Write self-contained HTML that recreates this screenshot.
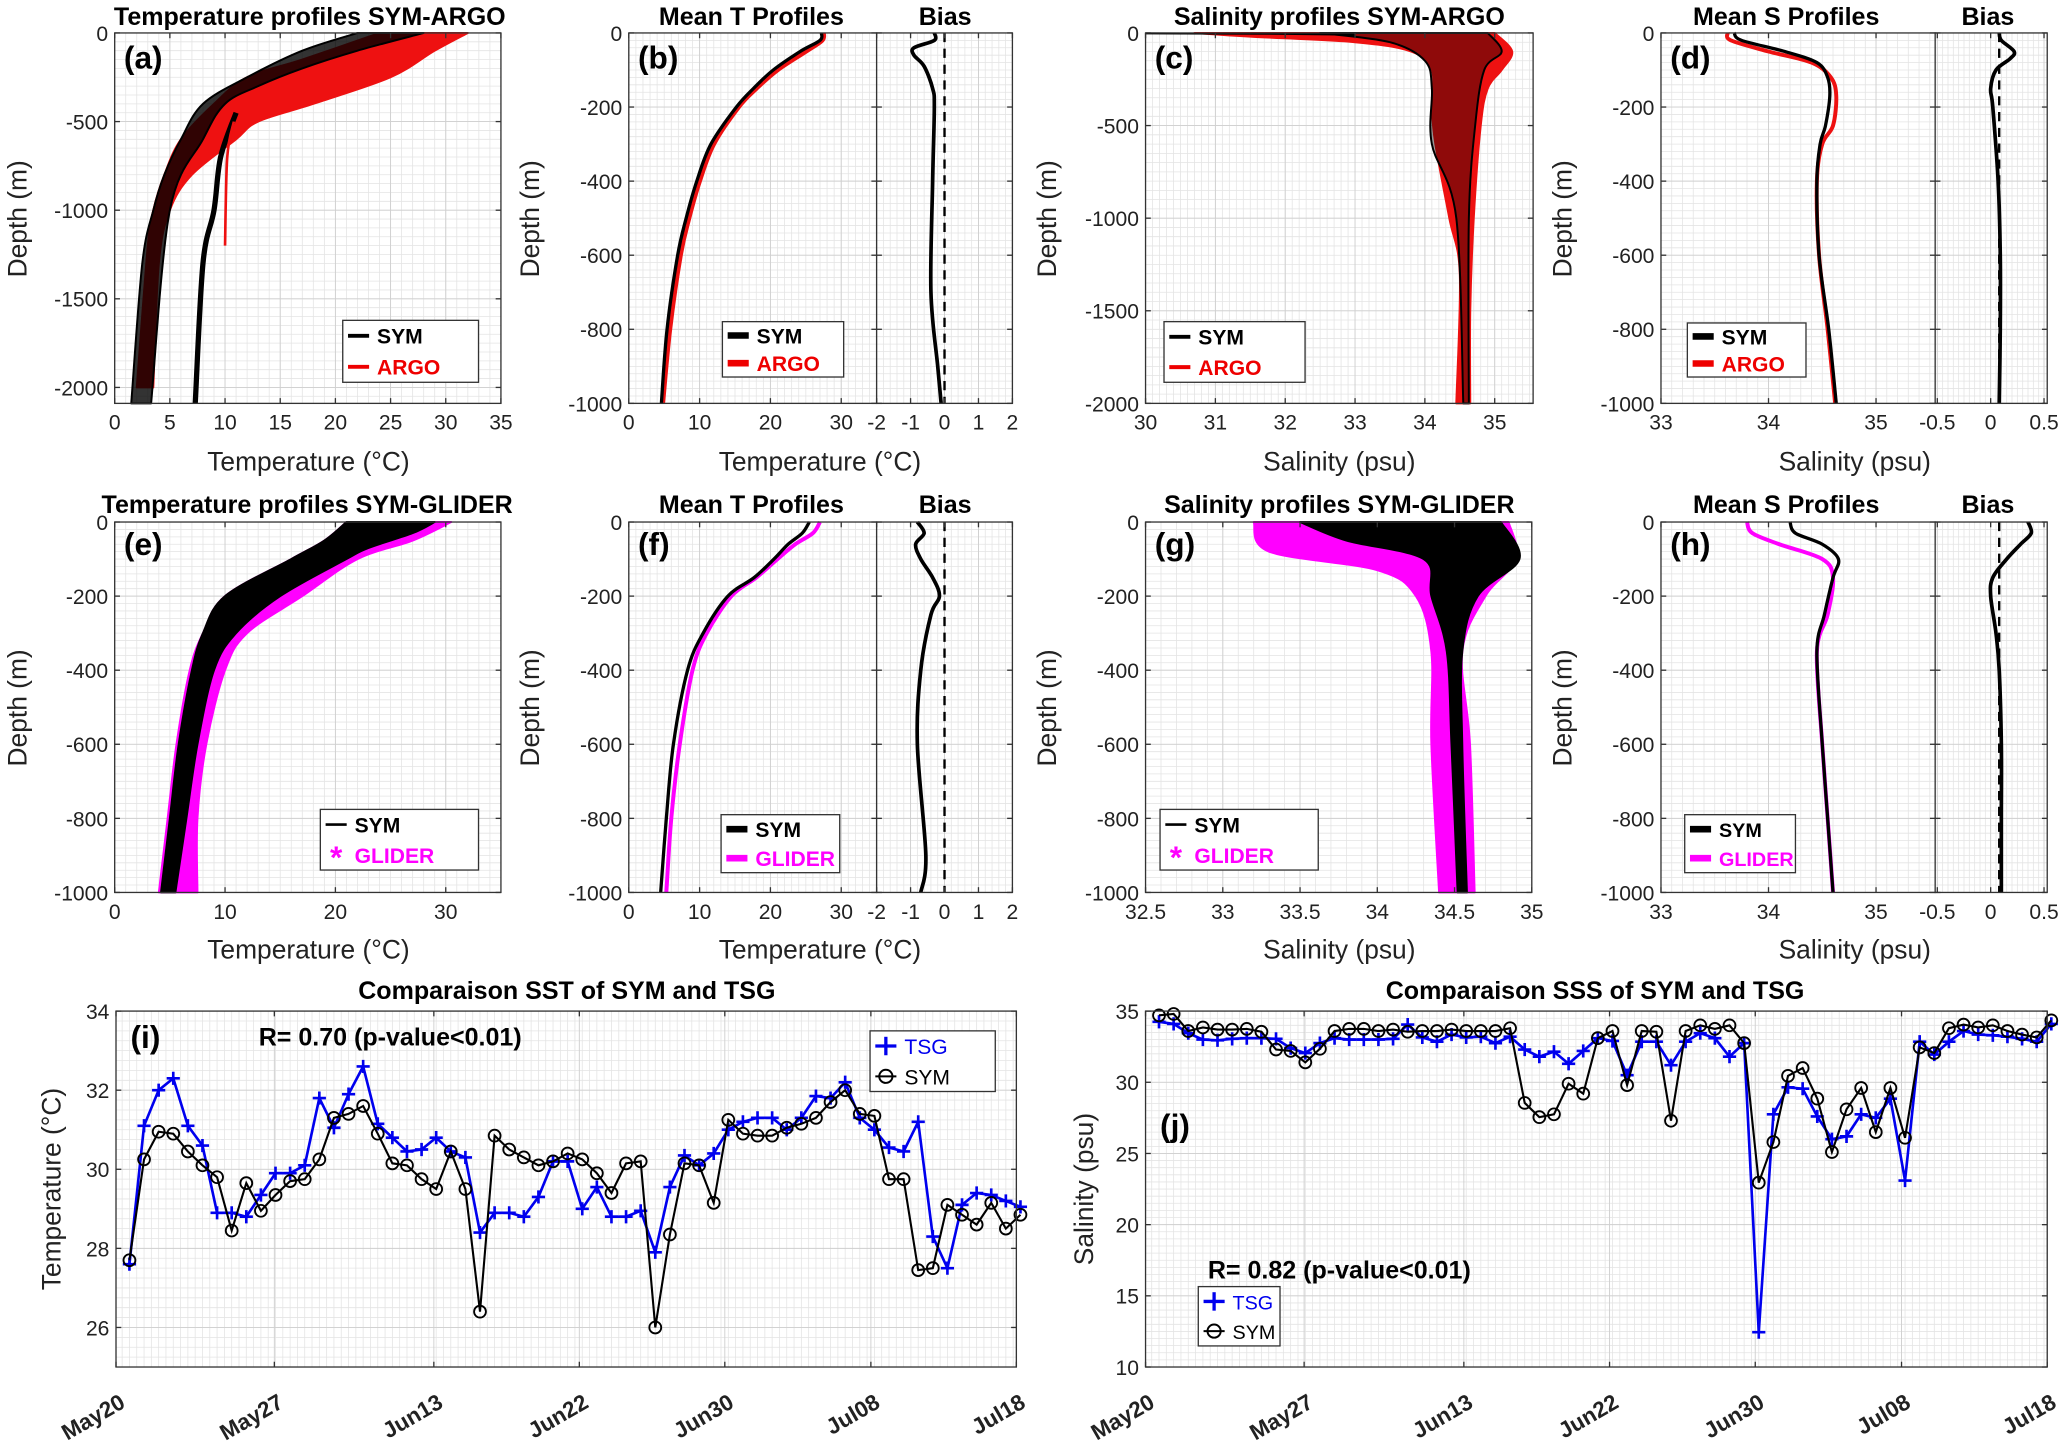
<!DOCTYPE html>
<html><head><meta charset="utf-8"><style>
html,body{margin:0;padding:0;background:#fff}
svg{display:block}
text{font-family:"Liberation Sans",Arial,sans-serif}
</style></head><body>
<svg id="fig" width="2067" height="1444" viewBox="0 0 1568 1095.4" xmlns="http://www.w3.org/2000/svg"></svg>
<script>
// ---------- DATA ----------
const aRedLeft=[[0,24],[-150,17],[-250,12],[-400,9],[-600,6],[-800,4.5],[-1000,3.5],[-1200,3],[-2000,2]];
const aRedRight=[[0,32],[-100,29],[-250,25],[-400,18],[-500,13],[-600,11],[-800,7],[-1000,5],[-1300,4],[-2000,3.5]];
const aBlkLeft=[[0,22],[-100,17],[-250,12],[-400,8],[-600,6],[-800,4.5],[-1000,3.5],[-1300,2.5],[-2090,1.5]];
const aBlkRight=[[0,28],[-100,22],[-200,17],[-300,13],[-400,10],[-600,8],[-1000,5],[-2090,3.3]];
const aBlkDeep=[[-450,11],[-700,9.6],[-1000,9],[-1300,8],[-2090,7.3]];
const aRedDeep=[[-500,10.8],[-700,10.2],[-1200,10]];
const bArgo=[[0,27.5],[-20,27.3],[-50,25],[-100,21],[-150,18],[-200,15.5],[-300,12],[-400,10],[-500,8.5],[-600,7.3],[-800,5.8],[-1000,4.8]];
const bSym=[[0,27.2],[-20,27],[-50,24.2],[-100,20.4],[-150,17.6],[-200,15.2],[-300,11.6],[-400,9.6],[-500,8.1],[-600,6.9],[-800,5.4],[-1000,4.6]];
const bBias=[[0,-0.3],[-20,-0.3],[-40,-0.9],[-60,-0.9],[-90,-0.6],[-150,-0.35],[-200,-0.3],[-400,-0.35],[-700,-0.4],[-900,-0.2],[-1000,-0.1]];
const cRedLeft=[[0,30.7],[-20,31.5],[-50,33.0],[-100,33.8],[-200,34.1],[-400,34.1],[-600,34.15],[-1000,34.35],[-1300,34.5],[-2000,34.45]];
const cRedRight=[[0,35.0],[-100,35.25],[-200,35.1],[-300,34.9],[-500,34.8],[-1000,34.7],[-1500,34.65],[-2000,34.65]];
const cBlkLeft=[[0,32.5],[-50,33.5],[-150,34.0],[-300,34.1],[-600,34.1],[-1000,34.45],[-2000,34.55]];
const cBlkRight=[[0,34.9],[-100,35.1],[-200,34.85],[-500,34.72],[-1000,34.63],[-2000,34.63]];
const dArgo=[[0,33.62],[-20,33.65],[-50,34.0],[-80,34.4],[-120,34.58],[-170,34.63],[-250,34.6],[-300,34.5],[-400,34.45],[-600,34.47],[-800,34.55],[-1000,34.62]];
const dSym=[[0,33.68],[-20,33.75],[-50,34.15],[-80,34.45],[-120,34.55],[-170,34.57],[-250,34.53],[-300,34.48],[-400,34.45],[-600,34.47],[-800,34.56],[-1000,34.63]];
const dBias=[[0,0.08],[-20,0.1],[-50,0.22],[-70,0.18],[-100,0.05],[-150,0.0],[-200,0.02],[-400,0.07],[-600,0.09],[-800,0.09],[-1000,0.08]];
const eMagLeft=[[0,21],[-50,19],[-100,16],[-200,10],[-300,8],[-400,6.8],[-600,5.6],[-800,4.8],[-1000,4.0]];
const eMagRight=[[0,30.5],[-50,27],[-100,22],[-200,17],[-300,12],[-400,10],[-600,8.3],[-800,7.5],[-1000,7.5]];
const eBlkLeft=[[0,21],[-50,19],[-100,16],[-200,10],[-300,8],[-400,7],[-600,5.8],[-800,5],[-1000,4.2]];
const eBlkRight=[[0,29],[-30,27],[-70,23],[-100,21],[-200,15],[-300,11],[-400,9],[-600,7.5],[-800,6.5],[-1000,5.5]];
const fGlider=[[0,27],[-30,26],[-60,23.5],[-100,21],[-150,18],[-200,14.5],[-300,11],[-400,9],[-600,7.2],[-800,6],[-1000,5.3]];
const fSym=[[0,25.5],[-30,24.5],[-60,22.5],[-100,20.5],[-150,17.7],[-200,14],[-300,10.5],[-400,8.3],[-600,6.3],[-800,5.3],[-1000,4.5]];
const fBias=[[0,-0.8],[-30,-0.6],[-60,-0.85],[-100,-0.7],[-150,-0.35],[-200,-0.15],[-250,-0.4],[-400,-0.7],[-600,-0.8],[-900,-0.55],[-1000,-0.7]];
const gMagLeft=[[0,33.2],[-80,33.3],[-130,34.0],[-200,34.25],[-350,34.35],[-600,34.35],[-1000,34.4]];
const gMagRight=[[0,34.85],[-100,34.9],[-200,34.7],[-350,34.55],[-600,34.6],[-1000,34.63]];
const gBlkLeft=[[0,33.5],[-50,33.8],[-100,34.3],[-200,34.35],[-350,34.45],[-600,34.48],[-1000,34.52]];
const gBlkRight=[[0,34.8],[-100,34.92],[-200,34.65],[-350,34.55],[-600,34.55],[-1000,34.58]];
const hGlider=[[0,33.8],[-30,33.85],[-60,34.1],[-100,34.5],[-150,34.6],[-250,34.55],[-350,34.45],[-600,34.5],[-800,34.55],[-1000,34.6]];
const hSym=[[0,34.2],[-30,34.25],[-60,34.5],[-100,34.65],[-150,34.6],[-250,34.52],[-350,34.45],[-600,34.5],[-800,34.55],[-1000,34.6]];
const hBias=[[0,0.35],[-30,0.38],[-60,0.28],[-100,0.15],[-150,0.02],[-200,0.0],[-300,0.05],[-400,0.08],[-600,0.1],[-800,0.1],[-1000,0.1]];
const iTSG=[27.6,31.1,32.0,32.3,31.1,30.6,28.9,28.9,28.8,29.35,29.9,29.9,30.1,31.8,31.05,31.9,32.6,31.15,30.8,30.45,30.5,30.8,30.45,30.3,28.4,28.9,28.9,28.8,29.3,30.2,30.2,29.0,29.55,28.8,28.8,28.95,27.9,29.55,30.35,30.1,30.4,31.0,31.2,31.3,31.3,31.0,31.3,31.85,31.8,32.2,31.3,31.0,30.55,30.45,31.2,28.3,27.5,29.1,29.4,29.35,29.2,29.05];
const iSYM=[27.7,30.25,30.95,30.9,30.45,30.1,29.8,28.45,29.65,28.95,29.35,29.7,29.75,30.25,31.3,31.4,31.6,30.9,30.15,30.1,29.75,29.5,30.45,29.5,26.4,30.85,30.5,30.3,30.1,30.2,30.4,30.25,29.9,29.4,30.15,30.2,26.0,28.35,30.15,30.1,29.15,31.25,30.9,30.85,30.85,31.05,31.15,31.3,31.7,32.0,31.4,31.35,29.75,29.75,27.45,27.5,29.1,28.85,28.6,29.15,28.5,28.85];
const jTSG=[34.25,34.1,33.45,33.0,32.95,33.05,33.1,33.1,33.05,32.4,32.05,32.75,33.1,33.0,33.0,33.0,33.05,34.05,33.15,32.85,33.35,33.15,33.2,32.75,33.2,32.3,31.8,32.15,31.3,32.2,33.1,32.9,30.5,32.85,32.85,31.2,32.85,33.45,33.1,31.8,32.75,12.45,27.75,29.65,29.55,27.6,26.0,26.2,27.75,27.5,28.85,23.1,32.85,31.95,32.85,33.6,33.35,33.3,33.2,33.05,32.85,34.1];
const jSYM=[34.7,34.8,33.6,33.85,33.7,33.7,33.75,33.55,32.3,32.2,31.4,32.35,33.6,33.75,33.75,33.6,33.7,33.55,33.6,33.6,33.7,33.6,33.6,33.6,33.8,28.55,27.55,27.75,29.9,29.2,33.1,33.6,29.8,33.6,33.55,27.3,33.6,34.0,33.75,34.0,32.75,22.95,25.8,30.45,31.0,28.85,25.1,28.1,29.6,26.5,29.6,26.1,32.45,32.05,33.8,34.05,33.85,34.0,33.6,33.35,33.15,34.35];
const dateLabels=["May20","May27","Jun13","Jun22","Jun30","Jul08","Jul18"];
const dateTickIdx=[-0.92,9.92,20.84,30.8,40.76,50.76,60.72];

// ---------- HELPERS ----------
const svg=document.getElementById('fig');
const NS='http://www.w3.org/2000/svg';
function mk(tag,attrs,parent){const e=document.createElementNS(NS,tag);for(const k in attrs)e.setAttribute(k,attrs[k]);(parent||svg).appendChild(e);return e;}
function txt(s,x,y,opt,parent){const o=Object.assign({'font-size':15,'text-anchor':'middle',fill:'#222'},opt||{});o.x=x;o.y=y;const t=mk('text',o,parent);t.textContent=s;return t;}
function rng(a,b,s){const r=[];for(let v=a;v<=b+1e-9;v+=s)r.push(+v.toFixed(6));return r;}
function smooth(P,start){ // catmull-rom through screen points
  let d=(start||'M')+P[0][0].toFixed(2)+','+P[0][1].toFixed(2);
  for(let i=0;i<P.length-1;i++){
    const p0=P[Math.max(0,i-1)],p1=P[i],p2=P[i+1],p3=P[Math.min(P.length-1,i+2)];
    const c1=[p1[0]+(p2[0]-p0[0])/6,p1[1]+(p2[1]-p0[1])/6],c2=[p2[0]-(p3[0]-p1[0])/6,p2[1]-(p3[1]-p1[1])/6];
    d+=`C${c1[0].toFixed(2)},${c1[1].toFixed(2)} ${c2[0].toFixed(2)},${c2[1].toFixed(2)} ${p2[0].toFixed(2)},${p2[1].toFixed(2)}`;
  }
  return d;
}
function axes(name,px0,px1,py0,py1,xmin,xmax,ymin,ymax,xt,yt,mx,my){
  const g=mk('g',{});
  
  
  const X=v=>px0+(v-xmin)/(xmax-xmin)*(px1-px0);
  const Y=v=>py1-(v-ymin)/(ymax-ymin)*(py1-py0);
  mk('rect',{x:px0,y:py0,width:px1-px0,height:py1-py0,fill:'#fff'},g);
  for(let v=Math.ceil(xmin/mx)*mx;v<=xmax;v+=mx){const x=X(v);mk('line',{x1:x,x2:x,y1:py0,y2:py1,stroke:'#e4e4e4','stroke-width':0.6},g);}
  for(let v=Math.ceil(ymin/my)*my;v<=ymax;v+=my){const y=Y(v);mk('line',{x1:px0,x2:px1,y1:y,y2:y,stroke:'#e4e4e4','stroke-width':0.6},g);}
  xt.forEach(v=>{const x=X(v);mk('line',{x1:x,x2:x,y1:py0,y2:py1,stroke:'#cfcfcf','stroke-width':0.7},g);});
  yt.forEach(v=>{const y=Y(v);mk('line',{x1:px0,x2:px1,y1:y,y2:y,stroke:'#cfcfcf','stroke-width':0.7},g);});
  const lay=mk('g',{},g);
  return {g,lay,X,Y,px0,px1,py0,py1,xt,yt};
}
function frame(A,xlabels,ylabels){
  const g=A.g;
  mk('rect',{x:A.px0,y:A.py0,width:A.px1-A.px0,height:A.py1-A.py0,fill:'none',stroke:'#333','stroke-width':1},g);
  A.xt.forEach((v,i)=>{const x=A.X(v);mk('line',{x1:x,x2:x,y1:A.py1,y2:A.py1-4,stroke:'#333'},g);mk('line',{x1:x,x2:x,y1:A.py0,y2:A.py0+4,stroke:'#333'},g);
    if(xlabels)txt(xlabels===true?String(v):xlabels[i],x,A.py1+20,{'font-size':16},g);});
  A.yt.forEach((v,i)=>{const y=A.Y(v);mk('line',{x1:A.px0,x2:A.px0+4,y1:y,y2:y,stroke:'#333'},g);mk('line',{x1:A.px1,x2:A.px1-4,y1:y,y2:y,stroke:'#333'},g);
    if(ylabels)txt(String(v),A.px0-5,y+6,{'font-size':16,'text-anchor':'end'},g);});
}
function pline(A,pts,color,w,name,dash){
  const P=pts.map(p=>[A.X(p[1]),A.Y(p[0])]);
  const o={d:smooth(P),fill:'none',stroke:color,'stroke-width':w,'stroke-linejoin':'round'};if(dash)o['stroke-dasharray']=dash;
  const p=mk('path',o,A.lay);
  
  
  return p;
}
function band(A,left,right,color,op,name){
  const L=left.map(p=>[A.X(p[1]),A.Y(p[0])]);
  const R=right.slice().reverse().map(p=>[A.X(p[1]),A.Y(p[0])]);
  const d=smooth(L)+smooth(R,'L')+'Z';
  const p=mk('path',{d,fill:color,'fill-opacity':op,stroke:color,'stroke-width':1.5,'stroke-linejoin':'round'},A.lay);
  
  
}
function legend(x,y,w,h,items,name,bold,fs){
  const g=mk('g',{});
  
  
  mk('rect',{x,y,width:w,height:h,fill:'#fff',stroke:'#333','stroke-width':1},g);
  items.forEach((it,i)=>{const cy=y+h*(i+0.5)/items.length;
    if(it.m==='line')mk('line',{x1:x+4,x2:x+20,y1:cy,y2:cy,stroke:it.c,'stroke-width':it.w||3},g);
    else if(it.m==='star')txt('*',x+12,cy+10,{'font-size':24,fill:it.c,'font-weight':'bold'},g);
    else if(it.m==='plus'){mk('line',{x1:x+12,x2:x+12,y1:cy-7,y2:cy+7,stroke:it.c,'stroke-width':2.5},g);mk('line',{x1:x+4,x2:x+20,y1:cy,y2:cy,stroke:it.c,'stroke-width':2.5},g);}
    else if(it.m==='circ'){mk('line',{x1:x+4,x2:x+20,y1:cy,y2:cy,stroke:it.c,'stroke-width':1.5},g);mk('circle',{cx:x+12,cy,r:5,fill:'none',stroke:it.c,'stroke-width':1.5},g);}
    txt(it.t,x+26,cy+6,{'font-size':fs||16,'text-anchor':'start',fill:it.tc||it.c,'font-weight':bold?'bold':'normal'},g);});
}
function title(s,x,y,name){const t=txt(s,x,y,{'font-size':19,'font-weight':'bold',fill:'#000'});}
function plabel(s,x,y){const t=txt(s,x,y,{'font-size':24,'font-weight':'bold',fill:'#000','text-anchor':'start'});}
function ylab(s,x,y){const t=txt(s,x,y,{'font-size':20,transform:`rotate(-90 ${x} ${y})`});}
function xlab(s,x,y){const t=txt(s,x,y,{'font-size':20});}

// ---------- ROW 1 ----------
let A=axes('panel-a',87,380,25,306,0,35,-2090,0,rng(0,35,5),[-2000,-1500,-1000,-500,0],1,50);
band(A,aRedLeft,aRedRight,'#ee1111',1,'argo-profiles');
band(A,aBlkLeft,aBlkRight,'#000',0.8,'sym-profiles');
pline(A,aBlkDeep,'#000',4,'sym-deep-profile');pline(A,aRedDeep,'#ee1111',2,'argo-deep-profile');
frame(A,true,true);title('Temperature profiles SYM-ARGO',235,19,'title-a');plabel('(a)',94,52);
legend(260,243,103,47,[{m:'line',c:'#000',t:'SYM'},{m:'line',c:'#e00',t:'ARGO'}],'legend-a',true);
ylab('Depth (m)',20,166);xlab('Temperature (°C)',234,357);

A=axes('panel-b',477,665,25,306,0,35,-1000,0,[0,10,20,30],rng(-1000,0,200),1,20);
pline(A,bArgo,'#ee1111',3.5,'argo-mean-t');pline(A,bSym,'#000',2.5,'sym-mean-t');
frame(A,true,true);
let B=axes('panel-b-bias',665,768,25,306,-2,2,-1000,0,[-2,-1,0,1,2],rng(-1000,0,200),0.2,20);
pline(B,[[0,0],[-1000,0]],'#000',1.8,'zero-line','7,5');pline(B,bBias,'#000',2.8,'bias-t');
frame(B,['-2','-1','0','1','2'],false);
title('Mean T Profiles',570,19,'title-b');title('Bias',717,19,'title-b-bias');plabel('(b)',484,52);
legend(548,244,92,42,[{m:'line',c:'#000',t:'SYM',w:5},{m:'line',c:'#e00',t:'ARGO',w:5}],'legend-b',true);
ylab('Depth (m)',409,166);xlab('Temperature (°C)',622,357);

A=axes('panel-c',869,1163,25,306,30,35.55,-2000,0,rng(30,35,1),[-2000,-1500,-1000,-500,0],0.1,50);
band(A,cRedLeft,cRedRight,'#ee1111',1,'argo-s-profiles');
band(A,cBlkLeft,cBlkRight,'#000',0.4,'sym-s-profiles');
pline(A,[[-2,30],[-5,32],[-10,33]],'#000',1.5,'sym-surface');
frame(A,true,true);title('Salinity profiles SYM-ARGO',1016,19,'title-c');plabel('(c)',876,52);
legend(883,244,107,46,[{m:'line',c:'#000',t:'SYM'},{m:'line',c:'#e00',t:'ARGO'}],'legend-c',true);
ylab('Depth (m)',801,166);xlab('Salinity (psu)',1016,357);

A=axes('panel-d',1260,1468,25,306,33,35.55,-1000,0,[33,34,35],rng(-1000,0,200),0.1,20);
pline(A,dArgo,'#ee1111',3,'argo-mean-s');pline(A,dSym,'#000',2.5,'sym-mean-s');
frame(A,true,true);
B=axes('panel-d-bias',1468,1553,25,306,-0.52,0.53,-1000,0,[-0.5,0,0.5],rng(-1000,0,200),0.05,20);
pline(B,[[0,0.08],[-1000,0.08]],'#000',1.8,'zero-line','7,5');pline(B,dBias,'#000',2.8,'bias-s');
frame(B,['-0.5','0','0.5'],false);
title('Mean S Profiles',1355,19,'title-d');title('Bias',1508,19,'title-d-bias');plabel('(d)',1267,52);
legend(1280,245,90,41,[{m:'line',c:'#000',t:'SYM',w:5},{m:'line',c:'#e00',t:'ARGO',w:5}],'legend-d',true);
ylab('Depth (m)',1192,166);xlab('Salinity (psu)',1407,357);

// ---------- ROW 2 ----------
A=axes('panel-e',87,380,396,677,0,35,-1000,0,[0,10,20,30],rng(-1000,0,200),1,20);
band(A,eMagLeft,eMagRight,'#ff00ff',1,'glider-profiles');
band(A,eBlkLeft,eBlkRight,'#000',1,'sym-profiles');
frame(A,true,true);title('Temperature profiles SYM-GLIDER',233,389,'title-e');plabel('(e)',94,421);
legend(243,614,120,46,[{m:'line',c:'#000',t:'SYM',w:2,tc:'#000'},{m:'star',c:'#ff00ff',t:'GLIDER'}],'legend-e',true);
ylab('Depth (m)',20,537);xlab('Temperature (°C)',234,727);

A=axes('panel-f',477,665,396,677,0,35,-1000,0,[0,10,20,30],rng(-1000,0,200),1,20);
pline(A,fGlider,'#ff00ff',3,'glider-mean-t');pline(A,fSym,'#000',2.5,'sym-mean-t');
frame(A,true,true);
B=axes('panel-f-bias',665,768,396,677,-2,2,-1000,0,[-2,-1,0,1,2],rng(-1000,0,200),0.2,20);
pline(B,[[0,0],[-1000,0]],'#000',1.8,'zero-line','7,5');pline(B,fBias,'#000',2.8,'bias-t');
frame(B,['-2','-1','0','1','2'],false);
title('Mean T Profiles',570,389,'title-f');title('Bias',717,389,'title-f-bias');plabel('(f)',484,421);
legend(547,618,90,44,[{m:'line',c:'#000',t:'SYM',w:5},{m:'line',c:'#ff00ff',t:'GLIDER',w:5}],'legend-f',true);
ylab('Depth (m)',409,537);xlab('Temperature (°C)',622,727);

A=axes('panel-g',869,1162,396,677,32.5,35,-1000,0,[32.5,33,33.5,34,34.5,35],rng(-1000,0,200),0.1,20);
band(A,gMagLeft,gMagRight,'#ff00ff',1,'glider-s-profiles');
band(A,gBlkLeft,gBlkRight,'#000',1,'sym-s-profiles');
frame(A,true,true);title('Salinity profiles SYM-GLIDER',1016,389,'title-g');plabel('(g)',876,421);
legend(880,614,120,46,[{m:'line',c:'#000',t:'SYM',w:2,tc:'#000'},{m:'star',c:'#ff00ff',t:'GLIDER'}],'legend-g',true);
ylab('Depth (m)',801,537);xlab('Salinity (psu)',1016,727);

A=axes('panel-h',1260,1468,396,677,33,35.55,-1000,0,[33,34,35],rng(-1000,0,200),0.1,20);
pline(A,hGlider,'#ff00ff',3,'glider-mean-s');pline(A,hSym,'#000',2.5,'sym-mean-s');
frame(A,true,true);
B=axes('panel-h-bias',1468,1553,396,677,-0.52,0.53,-1000,0,[-0.5,0,0.5],rng(-1000,0,200),0.05,20);
pline(B,[[0,0.08],[-1000,0.08]],'#000',1.8,'zero-line','7,5');pline(B,hBias,'#000',2.8,'bias-s');
frame(B,['-0.5','0','0.5'],false);
title('Mean S Profiles',1355,389,'title-h');title('Bias',1508,389,'title-h-bias');plabel('(h)',1267,421);
legend(1278,618,84,44,[{m:'line',c:'#000',t:'SYM',w:5},{m:'line',c:'#ff00ff',t:'GLIDER',w:5}],'legend-h',true,15);
ylab('Depth (m)',1192,537);xlab('Salinity (psu)',1407,727);

// ---------- ROW 3 ----------
function series(A,vals,color,marker,name){
  const pts=vals.map((v,i)=>[A.X(i),A.Y(v)]);
  const p=mk('path',{d:pts.map((q,i)=>(i?'L':'M')+q[0].toFixed(2)+','+q[1].toFixed(2)).join(''),fill:'none',stroke:color,'stroke-width':marker==='plus'?2:1.6},A.lay);
  
  
  pts.forEach(q=>{
    if(marker==='plus'){
      const m=mk('path',{d:`M${q[0]-5},${q[1]}h10M${q[0]},${q[1]-5}v10`,stroke:color,'stroke-width':2},A.lay);
      
      
    }else{
      const m=mk('circle',{cx:q[0],cy:q[1],r:4.5,fill:'none',stroke:color,'stroke-width':1.4},A.lay);
      
      
    }
  });
}
function dateTicks(A){
  dateTickIdx.forEach((v,i)=>{const x=A.X(v);
    const t=txt(dateLabels[i],x+8,A.py1+30,{'font-size':17,'font-weight':'bold','text-anchor':'end',transform:`rotate(-30 ${x+8} ${A.py1+30})`},A.g);
    });
}
A=axes('panel-i',88,771,767,1037,-0.92,60.72,25,34,dateTickIdx,[26,28,30,32,34],0.5,0.25);
series(A,iTSG,'#0000ee','plus','tsg-sst');series(A,iSYM,'#000','circ','sym-sst');
frame(A,false,true);dateTicks(A);
title('Comparaison SST of SYM and TSG',430,758,'title-i');plabel('(i)',99,795);
txt('R= 0.70 (p-value<0.01)',296,793,{'font-size':19,'font-weight':'bold',fill:'#000'});
legend(660,782,95,46,[{m:'plus',c:'#0000ee',t:'TSG'},{m:'circ',c:'#000',t:'SYM'}],'legend-i',false);
ylab('Temperature (°C)',46,902);

A=axes('panel-j',869,1553,767,1037,-0.92,60.72,10,35,dateTickIdx,[10,15,20,25,30,35],0.5,0.5);
series(A,jTSG,'#0000ee','plus','tsg-sss');series(A,jSYM,'#000','circ','sym-sss');
frame(A,false,true);dateTicks(A);
title('Comparaison SSS of SYM and TSG',1210,758,'title-j');plabel('(j)',880,862);
txt('R= 0.82 (p-value<0.01)',1016,970,{'font-size':19,'font-weight':'bold',fill:'#000'});
legend(909,976,62,45,[{m:'plus',c:'#0000ee',t:'TSG'},{m:'circ',c:'#000',t:'SYM'}],'legend-j',false,15);
ylab('Salinity (psu)',829,902);
</script>
</body></html>
